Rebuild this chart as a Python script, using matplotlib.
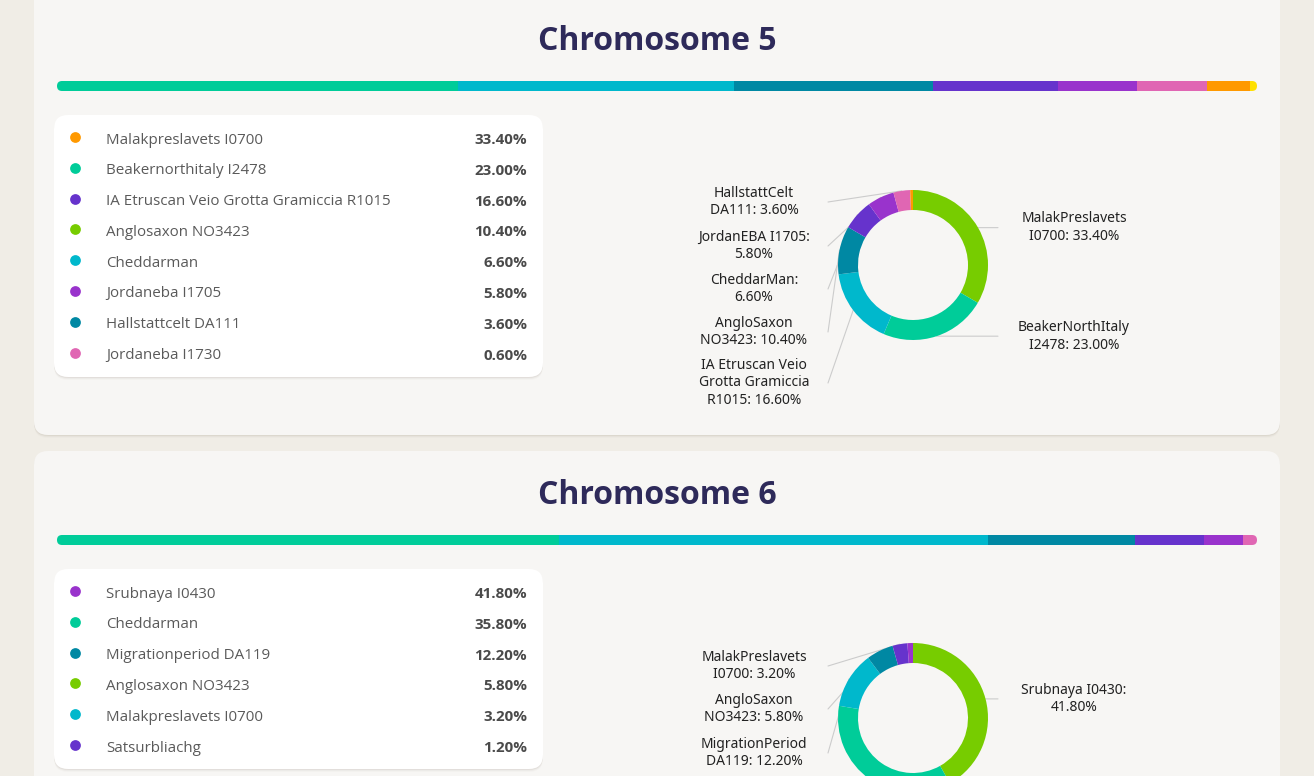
import matplotlib
matplotlib.use('Agg')
import matplotlib.pyplot as plt
import numpy as np
from matplotlib.patches import FancyBboxPatch, ConnectionPatch

W, H = 1314, 776

# palette used by bars / donuts
lime = '#77CC00'
green = '#00CC99'
cyan = '#00B8CC'
teal = '#0088A3'
purple = '#6633CC'
magenta = '#9933CC'
pink = '#E066B3'
orange = '#FF9900'
yellow = '#FFE000'
donut_colors = [lime, green, cyan, teal, purple, magenta, pink, orange]
bar_colors = [green, cyan, teal, purple, magenta, pink, orange, yellow]

# Chromosome 5
chr5_names = ['Malakpreslavets I0700', 'Beakernorthitaly I2478',
              'IA Etruscan Veio Grotta Gramiccia R1015', 'Anglosaxon NO3423',
              'Cheddarman', 'Jordaneba I1705', 'Hallstattcelt DA111', 'Jordaneba I1730']
chr5_pct = [33.4, 23.0, 16.6, 10.4, 6.6, 5.8, 3.6, 0.6]
chr5_dots = [orange, green, purple, lime, cyan, magenta, teal, pink]
chr5_labels = ['MalakPreslavets\nI0700: {:.2f}%', 'BeakerNorthItaly\nI2478: {:.2f}%',
               'IA Etruscan Veio\nGrotta Gramiccia\nR1015: {:.2f}%', 'AngloSaxon\nNO3423: {:.2f}%',
               'CheddarMan:\n{:.2f}%', 'JordanEBA I1705:\n{:.2f}%', 'HallstattCelt\nDA111: {:.2f}%', None]

# Chromosome 6
chr6_names = ['Srubnaya I0430', 'Cheddarman', 'Migrationperiod DA119',
              'Anglosaxon NO3423', 'Malakpreslavets I0700', 'Satsurbliachg']
chr6_pct = [41.8, 35.8, 12.2, 5.8, 3.2, 1.2]
chr6_dots = [magenta, green, teal, lime, cyan, purple]
chr6_labels = ['Srubnaya I0430:\n{:.2f}%', None, 'MigrationPeriod\nDA119: {:.2f}%',
               'AngloSaxon\nNO3423: {:.2f}%', 'MalakPreslavets\nI0700: {:.2f}%', None]

fig = plt.figure(figsize=(W / 100, H / 100), dpi=100)
fig.patch.set_facecolor('#F0EDE6')
bg = fig.add_axes([0, 0, 1, 1])
bg.set_xlim(0, W)
bg.set_ylim(H, 0)
bg.axis('off')
bg.set_zorder(0)


def rbox(x, y, w, h, r, color, z, shadow=True):
    if shadow:
        for i, a in enumerate([0.10, 0.06, 0.03]):
            s = FancyBboxPatch((x, y + 1 + i), w, h, boxstyle=f'round,pad=0,rounding_size={r}',
                               fc='#8a8070', ec='none', alpha=a, zorder=z - 0.1)
            bg.add_patch(s)
    p = FancyBboxPatch((x, y), w, h, boxstyle=f'round,pad=0,rounding_size={r}',
                       fc=color, ec='none', zorder=z)
    bg.add_patch(p)
    return p


def px_axes(x, y, w, h):
    return fig.add_axes([x / W, 1 - (y + h) / H, w / W, h / H])


def section(top, card, title, names, pct, dots, labels, center, left_y):
    rbox(34, card[0], 1246, card[1] - card[0], 14, '#F7F6F4', 1)
    bg.text(657, top + 44, title, ha='center', va='center', fontsize=23,
            fontweight='bold', color='#2E2A5A', family='Open Sans', zorder=3)

    # stacked bar
    by = top + 84
    bax = px_axes(57, by, 1200, 10)
    bax.set_xlim(0, 100)
    bax.set_ylim(-0.5, 0.5)
    bax.axis('off')
    left = np.concatenate([[0], np.cumsum(pct)[:-1]])
    bars = bax.barh(0, pct, left=left, height=1, color=bar_colors[:len(pct)])
    clip = FancyBboxPatch((57, by), 1200, 10, boxstyle='round,pad=0,rounding_size=5',
                          transform=bg.transData, fc='none', ec='none')
    for b in bars:
        b.set_clip_path(clip)

    # legend box
    ly = top + 118
    n = len(names)
    rbox(54, ly, 489, 262 if n == 8 else 200, 14, '#FFFFFF', 2)
    for i, (nm, v, c) in enumerate(zip(names, pct, dots)):
        yy = ly + 23 + i * 30.8
        bg.scatter([75], [yy - 1], s=60, color=c, zorder=4, linewidths=0)
        bg.text(106, yy + 2, nm, ha='left', va='center', fontsize=10.9, color='#5A5A5A',
                family='Open Sans', zorder=4)
        bg.text(527, yy + 2, f'{v:.2f}%', ha='right', va='center', fontsize=10.9,
                fontweight='bold', color='#4A4A4A', family='Open Sans', zorder=4)

    # donut
    cx, cy = center
    dax = px_axes(cx - 80, cy - 80, 160, 160)
    dax.pie(pct, colors=donut_colors[:len(pct)], startangle=90, counterclock=False,
            radius=1, wedgeprops=dict(width=20 / 75, linewidth=0))
    dax.set_xlim(-80 / 75, 80 / 75)
    dax.set_ylim(-80 / 75, 80 / 75)
    dax.set_zorder(3)
    cum = np.cumsum(pct)
    mids = (cum - np.array(pct) / 2) / 100.0
    k = 0
    for i, lab in enumerate(labels):
        if lab is None:
            continue
        ang = np.deg2rad(90 - mids[i] * 360)
        px, py = np.cos(ang), np.sin(ang)
        if px >= 0:
            # right side: horizontal leader at wedge height
            ey = cy - py * 75
            ex, tx = 998, 1074
        else:
            ey = left_y[k]
            k += 1
            ex, tx = 828, 754
        con = ConnectionPatch(xyA=(px, py), coordsA=dax.transData, xyB=(ex, ey),
                              coordsB=bg.transData, color='#CCCCCC', lw=0.8, zorder=2)
        fig.add_artist(con)
        bg.text(tx, ey, lab.format(pct[i]), ha='center', va='center', fontsize=10,
                color='#222222', family='Noto Sans', linespacing=1.25, zorder=4)


section(-3, (-20, 435), 'Chromosome 5', chr5_names, chr5_pct, chr5_dots, chr5_labels,
        (913, 265), [383, 332, 289, 246, 202])
section(451, (451, 900), 'Chromosome 6', chr6_names, chr6_pct, chr6_dots, chr6_labels,
        (913, 718), [753, 709, 666])

fig.savefig('out.png', dpi=100, facecolor=fig.get_facecolor())
